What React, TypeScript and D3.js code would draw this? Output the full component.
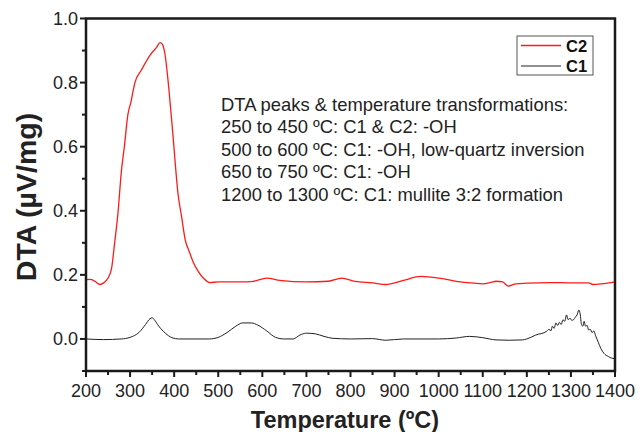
import React from 'react';
import * as d3 from 'd3';

// C2 (red) — DTA signal, µV/mg
const c2Temp = [200, 210, 220, 232, 240, 250, 258, 265, 273, 280, 287, 295, 302, 311, 326, 345, 360, 368, 373, 379, 388, 397, 409, 417, 425, 435, 443, 455, 466, 481, 500, 550, 580, 610, 640, 700, 750, 780, 810, 850, 880, 920, 960, 1000, 1040, 1080, 1100, 1120, 1130, 1145, 1158, 1175, 1200, 1250, 1300, 1340, 1350, 1370, 1400];
const c2Val = [0.185, 0.186, 0.18, 0.17, 0.175, 0.19, 0.22, 0.3, 0.4, 0.52, 0.6, 0.7, 0.74, 0.8, 0.84, 0.885, 0.91, 0.925, 0.92, 0.89, 0.78, 0.64, 0.45, 0.38, 0.31, 0.27, 0.24, 0.21, 0.19, 0.176, 0.178, 0.178, 0.18, 0.19, 0.183, 0.178, 0.18, 0.19, 0.18, 0.175, 0.17, 0.183, 0.195, 0.19, 0.18, 0.174, 0.172, 0.177, 0.18, 0.178, 0.165, 0.172, 0.174, 0.176, 0.175, 0.175, 0.17, 0.172, 0.178];

// C1 (black)
const c1Temp = [200, 240, 280, 300, 320, 335, 345, 350, 355, 365, 380, 395, 410, 480, 500, 520, 540, 555, 575, 590, 610, 630, 650, 670, 685, 700, 720, 740, 760, 800, 850, 880, 920, 1000, 1040, 1070, 1100, 1130, 1160, 1190, 1200, 1220, 1245, 1250, 1255, 1258, 1262, 1266, 1270, 1274, 1278, 1282, 1286, 1290, 1294, 1298, 1302, 1306, 1310, 1314, 1318, 1321, 1324, 1327, 1330, 1333, 1337, 1340, 1344, 1348, 1352, 1356, 1362, 1368, 1375, 1385, 1393, 1400];
const c1Val = [0, -0.002, 0, 0.005, 0.02, 0.045, 0.063, 0.066, 0.06, 0.04, 0.018, 0.004, 0, 0, 0.005, 0.02, 0.04, 0.05, 0.05, 0.043, 0.025, 0.005, 0, 0, 0.012, 0.018, 0.016, 0.008, 0.002, 0, 0.001, -0.004, 0, 0, 0.003, 0.008, 0.004, -0.003, -0.004, -0.003, 0, 0.012, 0.024, 0.03, 0.026, 0.04, 0.033, 0.05, 0.042, 0.052, 0.045, 0.06, 0.055, 0.075, 0.06, 0.065, 0.058, 0.06, 0.068, 0.075, 0.09, 0.078, 0.045, 0.04, 0.055, 0.04, 0.042, 0.028, 0.03, 0.02, 0.025, 0.01, -0.01, -0.03, -0.045, -0.055, -0.06, -0.062];

const xMajor = [200, 300, 400, 500, 600, 700, 800, 900, 1000, 1100, 1200, 1300, 1400];
const yMajor = [0.0, 0.2, 0.4, 0.6, 0.8, 1.0];

const notes = [
  'DTA peaks & temperature transformations:',
  '250 to 450 ºC: C1 & C2: -OH',
  '500 to 600 ºC: C1: -OH, low-quartz inversion',
  '650 to 750 ºC: C1: -OH',
  '1200 to 1300 ºC: C1: mullite 3:2 formation',
];

const W = 641, H = 432;
const m = { left: 86, right: 615, top: 18.5, bottom: 371 };

const App: React.FC = () => {
  const x = d3.scaleLinear().domain([200, 1400]).range([m.left, m.right]);
  const y = d3.scaleLinear().domain([-0.1, 1.0]).range([m.bottom, m.top]);

  const line = d3.line<[number, number]>()
    .x(d => x(d[0]))
    .y(d => y(d[1]))
    .curve(d3.curveMonotoneX);

  const c2 = c2Temp.map((t, i) => [t, c2Val[i]] as [number, number]);
  const c1 = c1Temp.map((t, i) => [t, c1Val[i]] as [number, number]);

  const xMinor = d3.range(250, 1400, 100);
  const yMinor = [-0.1, 0.1, 0.3, 0.5, 0.7, 0.9];
  const font = "'Liberation Sans', Arial, sans-serif";

  return (
    <div style={{ position: 'absolute', left: 0, top: 0 }}>
      <svg width={W} height={H} style={{ display: 'block', background: '#fff' }} fontFamily={font}>
        {/* curves */}
        <path d={line(c1) || ''} fill="none" stroke="#222" strokeWidth={1} />
        <path d={line(c2) || ''} fill="none" stroke="#ff1a1a" strokeWidth={1.3} />

        {/* frame */}
        <rect x={m.left} y={m.top} width={m.right - m.left} height={m.bottom - m.top}
          fill="none" stroke="#1a1a1a" strokeWidth={2.5} />

        {/* x ticks */}
        {xMajor.map(t => (
          <g key={'xm' + t}>
            <line x1={x(t)} x2={x(t)} y1={m.bottom} y2={m.bottom + 6} stroke="#1a1a1a" strokeWidth={2} />
            <text x={x(t)} y={m.bottom + 26} textAnchor="middle" fontSize={18} fill="#222">{t}</text>
          </g>
        ))}
        {xMinor.map(t => (
          <line key={'xn' + t} x1={x(t)} x2={x(t)} y1={m.bottom} y2={m.bottom + 4} stroke="#1a1a1a" strokeWidth={2} />
        ))}

        {/* y ticks */}
        {yMajor.map(v => (
          <g key={'ym' + v}>
            <line x1={m.left - 6} x2={m.left} y1={y(v)} y2={y(v)} stroke="#1a1a1a" strokeWidth={2} />
            <text x={m.left - 8} y={y(v) + 6.5} textAnchor="end" fontSize={18} fill="#222">{v.toFixed(1)}</text>
          </g>
        ))}
        {yMinor.map(v => (
          <line key={'yn' + v} x1={m.left - 4} x2={m.left} y1={y(v)} y2={y(v)} stroke="#1a1a1a" strokeWidth={2} />
        ))}

        {/* axis titles */}
        <text x={345} y={428} textAnchor="middle" fontSize={23.5} fontWeight="bold" fill="#222">
          Temperature (ºC)
        </text>
        <text transform={`translate(36,197) rotate(-90)`} textAnchor="middle"
          fontSize={28.5} fontWeight="bold" fill="#222">
          DTA (µV/mg)
        </text>

        {/* annotation */}
        {notes.map((s, i) => (
          <text key={i} x={221} y={110.5 + i * 22.6} fontSize={18.4} fill="#222">{s}</text>
        ))}

        {/* legend */}
        <rect x={517} y={36} width={76} height={39} fill="#fff" stroke="#555" strokeWidth={1} />
        <line x1={521} x2={561} y1={45.5} y2={45.5} stroke="#ff1a1a" strokeWidth={1.3} />
        <text x={566} y={51.5} fontSize={16.5} fontWeight="bold" fill="#111">C2</text>
        <line x1={521} x2={561} y1={66} y2={66} stroke="#222" strokeWidth={1} />
        <text x={566} y={72} fontSize={16.5} fontWeight="bold" fill="#111">C1</text>
      </svg>
    </div>
  );
};

export default App;
